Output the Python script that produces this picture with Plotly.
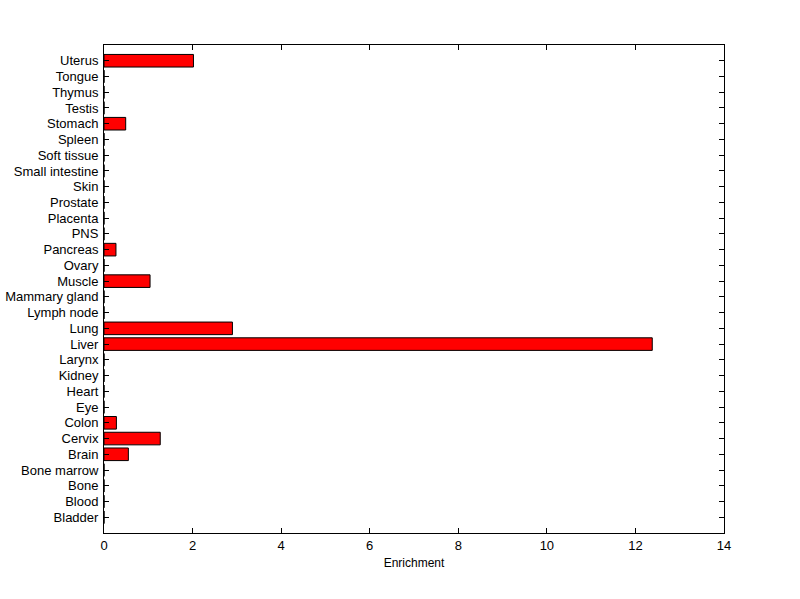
import plotly.graph_objects as go

tissues = ["Bladder", "Blood", "Bone", "Bone marrow", "Brain", "Cervix", "Colon", "Eye",
           "Heart", "Kidney", "Larynx", "Liver", "Lung", "Lymph node", "Mammary gland",
           "Muscle", "Ovary", "Pancreas", "PNS", "Placenta", "Prostate", "Skin",
           "Small intestine", "Soft tissue", "Spleen", "Stomach", "Testis", "Thymus",
           "Tongue", "Uterus"]
enrichment = [0, 0, 0, 0, 0.55, 1.27, 0.28, 0, 0, 0, 0, 12.38, 2.90, 0, 0,
              1.04, 0, 0.27, 0, 0, 0, 0, 0, 0, 0, 0.49, 0, 0, 0, 2.02]
x_ticks = [0, 2, 4, 6, 8, 10, 12, 14]

fig = go.Figure(go.Bar(
    x=enrichment, y=tissues, orientation="h", width=0.8,
    marker=dict(color="#ff0000", line=dict(color="black", width=1)),
    hoverinfo="x+y",
))

font = dict(family="Liberation Sans, Arial, Helvetica, sans-serif", size=13, color="black")
fig.update_layout(
    width=800, height=599,
    margin=dict(l=104, r=76, t=45, b=66),
    paper_bgcolor="white", plot_bgcolor="white",
    font=font, showlegend=False,
    xaxis=dict(range=[0, 14], tickmode="array", tickvals=x_ticks, ticks="inside", ticklen=5,
               tickcolor="black", showline=True, linecolor="black", linewidth=1,
               mirror="ticks", showgrid=False, zeroline=False, automargin=False,
               tickfont=dict(size=13),
               title=dict(text="Enrichment", standoff=7, font=dict(size=12))),
    yaxis=dict(type="category", categoryorder="array", categoryarray=tissues,
               tickmode="array", tickvals=tissues, ticktext=tissues,
               range=[-1, 30], ticks="inside", ticklen=5, tickcolor="black",
               showline=True, linecolor="black", linewidth=1, mirror="ticks",
               showgrid=False, zeroline=False, ticklabelstandoff=2, automargin=False,
               tickfont=dict(size=13)),
)
fig.write_html("out.html", config={"displayModeBar": False},
               post_script="document.body.style.margin='0';document.body.style.overflow='hidden';")
